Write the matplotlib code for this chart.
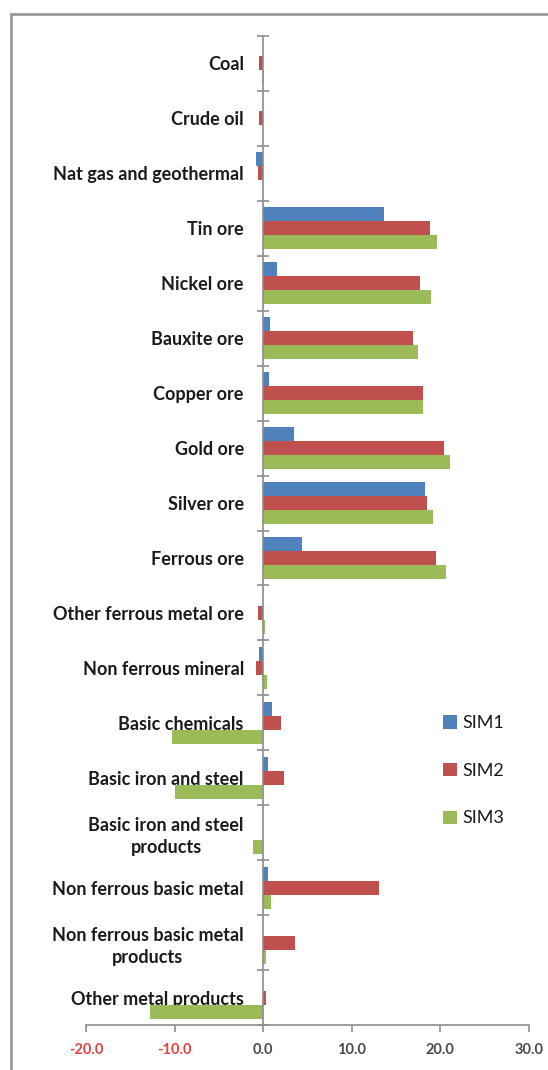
import matplotlib
matplotlib.use("Agg")
import matplotlib.pyplot as plt
from matplotlib.lines import Line2D
import numpy as np

categories = [
    "Coal", "Crude oil", "Nat gas and geothermal", "Tin ore", "Nickel ore",
    "Bauxite ore", "Copper ore", "Gold ore", "Silver ore", "Ferrous ore",
    "Other ferrous metal ore", "Non ferrous mineral", "Basic chemicals",
    "Basic iron and steel", "Basic iron and steel\nproducts",
    "Non ferrous basic metal", "Non ferrous basic metal\nproducts",
    "Other metal products",
]
sim1 = [0.0, 0.0, -0.8, 13.6, 1.6, 0.8, 0.7, 3.5, 18.3, 4.4,
        0.0, -0.45, 1.0, 0.55, 0.0, 0.5, 0.0, 0.0]
sim2 = [-0.5, -0.5, -0.6, 18.8, 17.7, 16.9, 18.0, 20.4, 18.5, 19.5,
        -0.55, -0.85, 2.05, 2.3, 0.0, 13.1, 3.6, 0.3]
sim3 = [0.1, 0.0, 0.0, 19.6, 18.9, 17.5, 18.0, 21.1, 19.2, 20.6,
        0.15, 0.45, -10.3, -10.0, -1.1, 0.85, 0.3, -12.8]
series_names = ["SIM1", "SIM2", "SIM3"]
series_colors = ["#4F81BD", "#C0504D", "#9BBB59"]
xticks = [-20, -10, 0, 10, 20, 30]

plt.rcParams["font.family"] = ["Lato", "DejaVu Sans"]

fig = plt.figure(figsize=(5.48, 10.70), dpi=100)
ax = fig.add_axes([86 / 548, 1 - 1025 / 1070, (529 - 86) / 548, (1025 - 36) / 1070])

n = len(categories)
y = np.arange(n)
bh = 0.255
for k, (vals, name, col) in enumerate(zip([sim1, sim2, sim3], series_names, series_colors)):
    ax.barh(y + (k - 1) * bh, vals, height=bh, color=col, label=name, zorder=2)

ax.set_ylim(n - 0.5, -0.5)
ax.set_xlim(-20, 30)

# category axis sits at x = 0
for s in ["top", "right"]:
    ax.spines[s].set_visible(False)
ax.spines["left"].set_position(("data", 0))
ax.spines["left"].set_color("#8C8C8C")
ax.spines["left"].set_linewidth(1.2)
ax.spines["bottom"].set_color("#8C8C8C")
ax.spines["bottom"].set_linewidth(1.2)

ax.set_yticks(y)
ax.set_yticklabels(categories, fontsize=13, fontweight="bold", color="#1A1A1A",
                   linespacing=1.35)
for lab in ax.get_yticklabels():
    lab.set_multialignment("center")
ax.tick_params(axis="y", which="major", length=0, pad=14)
ax.set_yticks(np.arange(n + 1) - 0.5, minor=True)
ax.tick_params(axis="y", which="minor", length=8, direction="inout",
               color="#8C8C8C", width=1.2)

ax.set_xticks(xticks)
ax.set_xticklabels([f"{v:.1f}" for v in xticks], fontsize=10.5, fontweight="bold")
ax.tick_params(axis="x", length=5, direction="out", color="#8C8C8C", width=1.2, pad=8)
for lab, v in zip(ax.get_xticklabels(), xticks):
    lab.set_color("#E8413C" if v < 0 else "#4A4A4A")

leg = ax.legend(loc="upper left", bbox_to_anchor=((436 - 86) / 443, 1 - (708 - 36) / 989),
                frameon=False, fontsize=13, handlelength=0.75, handleheight=0.75,
                handletextpad=0.3, labelspacing=1.75, borderaxespad=0)
for t in leg.get_texts():
    t.set_color("#1A1A1A")

# outer chart frame
frame_col = "#9A9A9A"
fig.add_artist(Line2D([11 / 548, 11 / 548], [0, 1 - 14 / 1070], transform=fig.transFigure,
                      color=frame_col, lw=2))
fig.add_artist(Line2D([11 / 548, 1], [1 - 14 / 1070, 1 - 14 / 1070], transform=fig.transFigure,
                      color=frame_col, lw=2))

fig.savefig("out.png", dpi=100)
